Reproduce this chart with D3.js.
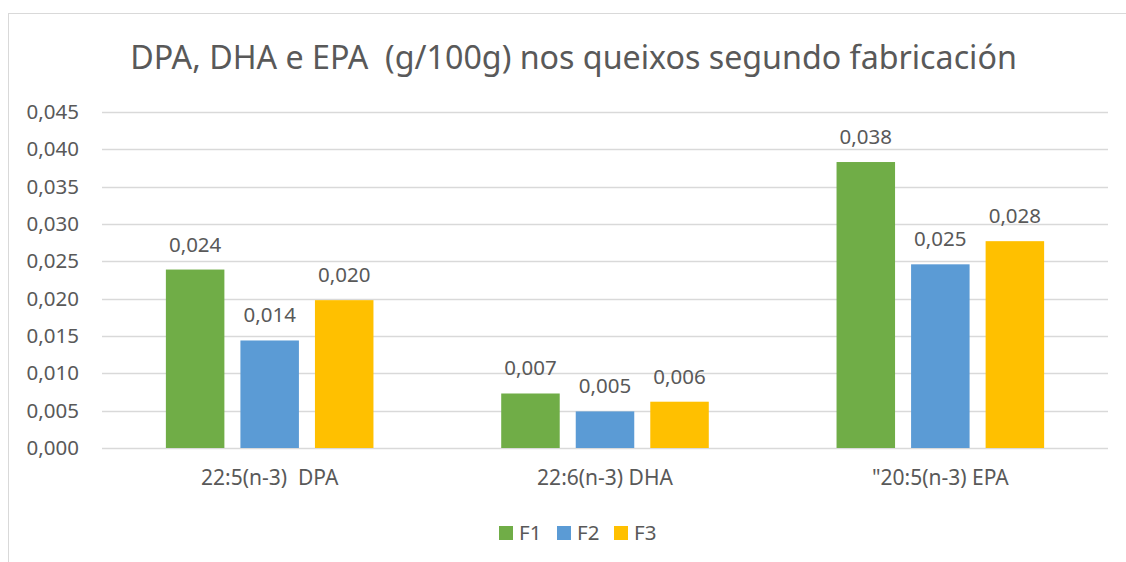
<!DOCTYPE html>
<html>
<head>
<meta charset="utf-8">
<script src="https://cdn.jsdelivr.net/npm/d3@7"></script>
<style>
  body { margin: 0; background: #fff; }
  text { font-family: "Noto Sans", sans-serif; fill: #595959; white-space: pre; }
</style>
</head>
<body>
<script>
// data
const categories = ['22:5(n-3)  DPA', '22:6(n-3) DHA', '"20:5(n-3) EPA'];
const seriesNames = ['F1', 'F2', 'F3'];
const F1 = [0.0239, 0.0073, 0.0383];
const F2 = [0.0144, 0.0049, 0.0246];
const F3 = [0.0198, 0.0062, 0.0277];
const yTicks = [0, 0.005, 0.01, 0.015, 0.02, 0.025, 0.03, 0.035, 0.04, 0.045];
const colors = ['#70AD47', '#5B9BD5', '#FFC000'];
const titleText = 'DPA, DHA e EPA  (g/100g) nos queixos segundo fabricación';

const W = 1126, H = 562;
const plotL = 102, plotR = 1108, plotT = 112, plotB = 448;
const fs = 20.5;

const svg = d3.select('body').append('svg')
  .attr('width', W)
  .attr('height', H);

// chart border (cut off at right/bottom like the screenshot)
svg.append('rect')
  .attr('x', 8.5).attr('y', 13.5)
  .attr('width', W + 20).attr('height', H + 20)
  .attr('fill', 'none')
  .attr('stroke', '#D9D9D9');

const y = d3.scaleLinear().domain([0, 0.045]).range([plotB, plotT]);
const x0 = d3.scaleBand().domain(categories).range([plotL, plotR]).padding(0);
const x1 = d3.scaleBand().domain(seriesNames).range([0, x0.bandwidth()])
  .paddingInner(0.215).paddingOuter(0.857);

const fmt = v => d3.format('.3f')(v).replace('.', ',');

// gridlines
svg.append('g').selectAll('line')
  .data(yTicks)
  .join('line')
  .attr('x1', plotL).attr('x2', plotR)
  .attr('y1', d => Math.round(y(d)) + 0.5)
  .attr('y2', d => Math.round(y(d)) + 0.5)
  .attr('stroke', '#D9D9D9')
  .attr('stroke-width', 1.3);

// y axis labels
const yAxis = d3.axisLeft(y).tickValues(yTicks).tickFormat(fmt).tickSize(0).tickPadding(0);
const ya = svg.append('g').attr('transform', 'translate(79,0)').call(yAxis);
ya.select('.domain').remove();
ya.selectAll('text')
  .attr('font-size', fs)
  .attr('font-family', '"Noto Sans", sans-serif')
  .attr('fill', '#595959');

// bars
const rows = categories.map((c, i) => ({ cat: c, vals: [F1[i], F2[i], F3[i]] }));
const groups = svg.append('g').selectAll('g')
  .data(rows)
  .join('g')
  .attr('transform', d => `translate(${x0(d.cat)},0)`);

groups.selectAll('rect')
  .data(d => d.vals.map((v, j) => ({ name: seriesNames[j], v, j })))
  .join('rect')
  .attr('x', d => x1(d.name))
  .attr('y', d => y(d.v))
  .attr('width', x1.bandwidth())
  .attr('height', d => plotB - y(d.v))
  .attr('fill', d => colors[d.j]);

groups.selectAll('text')
  .data(d => d.vals.map((v, j) => ({ name: seriesNames[j], v, j })))
  .join('text')
  .attr('x', d => x1(d.name) + x1.bandwidth() / 2)
  .attr('y', d => y(d.v) - 18)
  .attr('text-anchor', 'middle')
  .attr('font-size', fs)
  .text(d => fmt(d.v));

// category labels
const xAxis = d3.axisBottom(x0).tickSize(0).tickPadding(0);
const xa = svg.append('g').attr('transform', `translate(0,${plotB})`).call(xAxis);
xa.select('.domain').remove();
xa.selectAll('text')
  .attr('dy', null)
  .attr('y', 37)
  .attr('font-size', 21)
  .attr('font-family', '"Noto Sans", sans-serif')
  .attr('fill', '#595959')
  .style('white-space', 'pre');

// title, sized to the width it has in the picture
const title = svg.append('text')
  .attr('x', 573.5).attr('y', 69)
  .attr('text-anchor', 'middle')
  .attr('font-size', 30)
  .text(titleText);
const tw = title.node().getComputedTextLength();
title.attr('font-size', 30 * 887 / tw);

// legend
const legX = [499, 557, 614];
const leg = svg.append('g').selectAll('g')
  .data(seriesNames)
  .join('g')
  .attr('transform', (d, i) => `translate(${legX[i]},526)`);
leg.append('rect')
  .attr('width', 14).attr('height', 14)
  .attr('fill', (d, i) => colors[i]);
leg.append('text')
  .attr('x', 20).attr('y', 14)
  .attr('font-size', fs)
  .text(d => d);
</script>
</body>
</html>
